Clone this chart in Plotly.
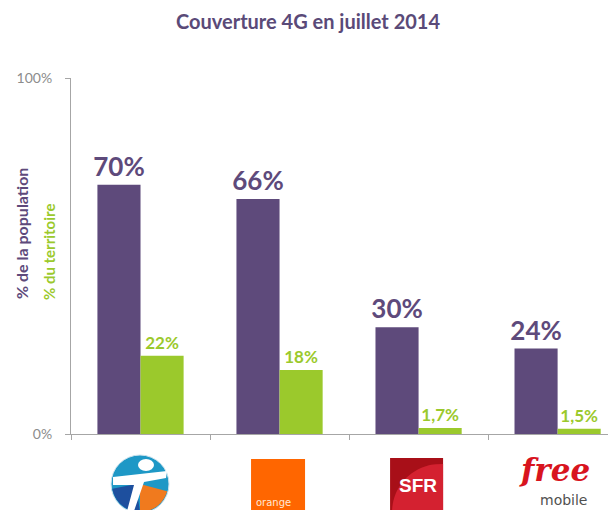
import math
import plotly.graph_objects as go

# Données (juillet 2014)
operateurs = ["Bouygues Telecom", "Orange", "SFR", "Free Mobile"]
population = [70, 66, 30, 24]      # % de la population couverte
territoire = [22, 18, 1.7, 1.5]    # % du territoire couvert
y_tickvals = [0, 100]
y_ticktext = ["0%", "100%"]

VIOLET = "#5E4A7B"
VERT = "#9BC92C"
GRIS = "#8C8C8C"
FONT = "Lato"

# la page ajoute 8px de marge au corps : on compense
OFF = 8
W, H = 616 - OFF, 510 - OFF

# Repères en pixels écran de la zone de tracé (pour placer les logos)
X0, CAT_W = 71, 139
Y0, Y_H = 434, 356


def pct(v):
    return f"{v:g}%".replace(".", ",")


def xd(px):
    return (px - X0) / CAT_W - 0.5


def yp(py):
    return (Y0 - py) / Y_H


def path(points, close=True):
    s = "M " + " L ".join(f"{xd(a):.4f},{yp(b):.4f}" for a, b in points)
    return s + (" Z" if close else "")


def arc(cx, cy, r, a0, a1, n=30):
    return [(cx + r * math.cos(math.radians(a0 + (a1 - a0) * k / n)),
             cy - r * math.sin(math.radians(a0 + (a1 - a0) * k / n))) for k in range(n + 1)]


fig = go.Figure()
fig.add_trace(go.Bar(
    x=operateurs, y=population, name="% de la population",
    marker=dict(color=VIOLET, line=dict(width=0)),
    text=[f"<b>{pct(v)}</b>" for v in population], textposition="outside",
    textfont=dict(family=FONT, size=26, color=VIOLET),
    constraintext="none", cliponaxis=False,
))
fig.add_trace(go.Bar(
    x=operateurs, y=territoire, name="% du territoire",
    marker=dict(color=VERT, line=dict(width=0)),
    text=[f"<b>{pct(v)}</b>" for v in territoire], textposition="outside",
    textfont=dict(family=FONT, size=17, color=VERT),
    constraintext="none", cliponaxis=False,
))

shapes = []
annotations = []

# --- Logo Bouygues Telecom (approximation)
cx, cy, r = 140, 484, 29
shapes.append(dict(type="circle", xref="x", yref="paper",
                   x0=xd(cx - r), x1=xd(cx + r), y0=yp(cy + r), y1=yp(cy - r),
                   fillcolor="#1E98C6", line=dict(width=1, color="#D0E4EE")))
shapes.append(dict(type="path", xref="x", yref="paper",
                   path=path([(cx, cy)] + arc(cx, cy, r - 1, 345, 270)),
                   fillcolor="#F07A1E", line=dict(width=0)))
shapes.append(dict(type="path", xref="x", yref="paper",
                   path=path([(cx - 4, cy)] + arc(cx, cy, r - 1, 270, 190)),
                   fillcolor="#1D4F9E", line=dict(width=0)))
shapes.append(dict(type="path", xref="x", yref="paper",
                   path=path([(cx - 27, cy - 7), (cx + 27, cy - 13), (cx + 26, cy - 6),
                              (cx + 4, cy - 2), (cx - 6, cy + 27), (cx - 13, cy + 27),
                              (cx - 6, cy + 1), (cx - 27, cy + 1)]),
                   fillcolor="white", line=dict(width=0)))
shapes.append(dict(type="circle", xref="x", yref="paper",
                   x0=xd(cx - 2), x1=xd(cx + 14), y0=yp(cy - 13), y1=yp(cy - 25),
                   fillcolor="white", line=dict(width=0)))

# --- Logo Orange
shapes.append(dict(type="rect", xref="x", yref="paper",
                   x0=xd(251), x1=xd(305), y0=yp(512), y1=yp(459),
                   fillcolor="#FF6600", line=dict(width=0)))
annotations.append(dict(xref="x", yref="paper", x=xd(254), y=yp(502),
                        xanchor="left", yanchor="middle", showarrow=False,
                        text="orange", font=dict(family="DejaVu Sans", size=10, color="#FFE9D6")))

# --- Logo SFR
shapes.append(dict(type="rect", xref="x", yref="paper",
                   x0=xd(390), x1=xd(443), y0=yp(512), y1=yp(458),
                   fillcolor="#A80F18", line=dict(width=0)))
shapes.append(dict(type="path", xref="x", yref="paper",
                   path=path([(390, 512)] + arc(440, 512, 48, 180, 95) + [(443, 464), (443, 512)]),
                   fillcolor="#D42130", line=dict(width=0)))
annotations.append(dict(xref="x", yref="paper", x=xd(418), y=yp(485),
                        xanchor="center", yanchor="middle", showarrow=False,
                        text="<b>SFR</b>", font=dict(family="Liberation Sans", size=19, color="white")))

# --- Logo Free mobile
annotations.append(dict(xref="x", yref="paper", x=xd(554), y=yp(470),
                        xanchor="center", yanchor="middle", showarrow=False,
                        text="<b><i>free</i></b>",
                        font=dict(family="DejaVu Serif", size=31, color="#D8141E")))
annotations.append(dict(xref="x", yref="paper", x=xd(563), y=yp(500),
                        xanchor="center", yanchor="middle", showarrow=False,
                        text="mobile", font=dict(family="DejaVu Sans", size=14, color="#505050")))

# --- Titres d'axe (deux couleurs)
annotations.append(dict(xref="paper", yref="paper", x=(21 - X0) / 545, y=yp(234),
                        xanchor="center", yanchor="middle", showarrow=False, textangle=-90,
                        text="<b>% de la population</b>",
                        font=dict(family=FONT, size=16, color=VIOLET)))
annotations.append(dict(xref="paper", yref="paper", x=(49 - X0) / 545, y=yp(252),
                        xanchor="center", yanchor="middle", showarrow=False, textangle=-90,
                        text="<b>% du territoire</b>",
                        font=dict(family=FONT, size=15, color=VERT)))

fig.update_layout(
    width=W, height=H,
    margin=dict(l=X0 - OFF, r=0, t=78 - OFF, b=H - (Y0 - OFF)),
    paper_bgcolor="white", plot_bgcolor="white",
    barmode="group", bargap=0.38, bargroupgap=0,
    showlegend=False,
    title=dict(text="<b>Couverture 4G en juillet 2014</b>", x=(308 - OFF) / W, xref="container",
               xanchor="center", y=1 - (22 - OFF) / H, yref="container", yanchor="middle",
               font=dict(family=FONT, size=20, color="#5A4A78")),
    font=dict(family=FONT),
    shapes=shapes, annotations=annotations,
)
fig.update_xaxes(
    type="category", range=[-0.5, 3.42], showticklabels=False,
    showline=True, linecolor="#A6A6A6", linewidth=1,
    ticks="outside", tickson="boundaries", ticklen=5, tickcolor="#A6A6A6",
    showgrid=False, zeroline=False,
)
fig.update_yaxes(
    range=[0, 100], tickvals=y_tickvals, ticktext=y_ticktext,
    showline=True, linecolor="#A6A6A6", linewidth=1,
    ticks="outside", ticklen=5, tickcolor="#A6A6A6",
    tickfont=dict(family=FONT, size=14, color=GRIS),
    ticklabelstandoff=10,
    showgrid=False, zeroline=False,
)

fig.write_html("out.html")
